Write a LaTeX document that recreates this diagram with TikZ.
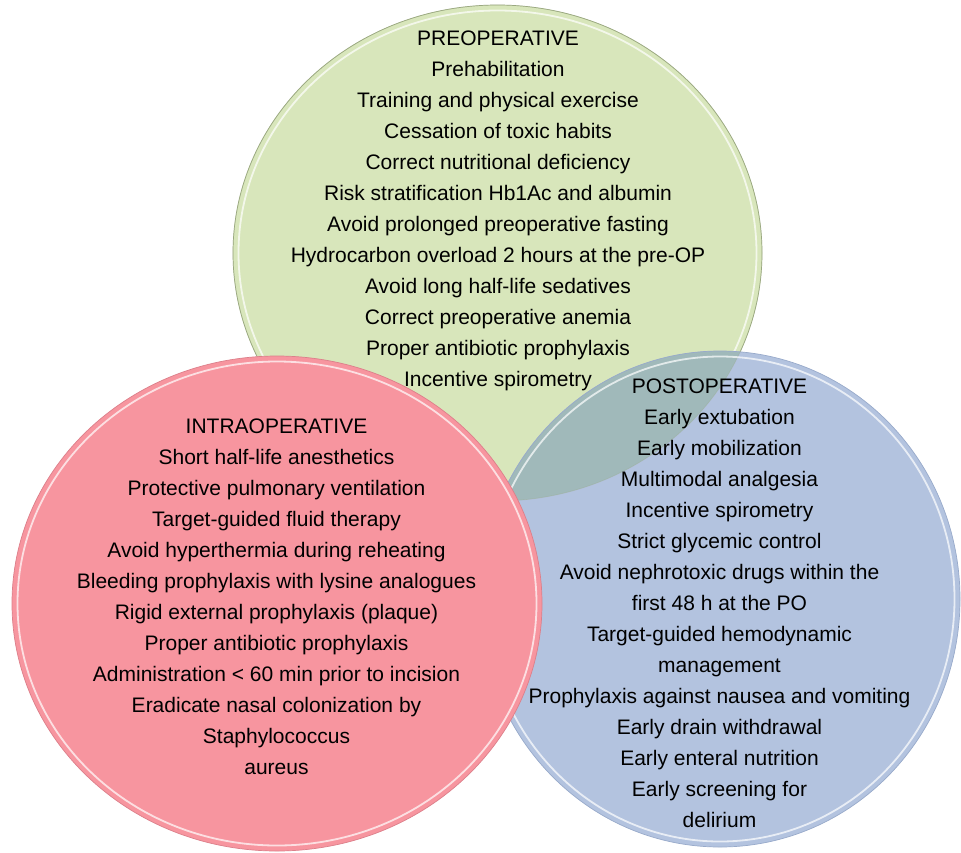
\documentclass[tikz,border=0pt]{standalone}
\usepackage{fontspec}
\setmainfont{Liberation Sans}
\definecolor{gfill}{HTML}{D8E6BB}
\definecolor{gline}{HTML}{9AA880}
\definecolor{bfill}{HTML}{B3C3DF}
\definecolor{bline}{HTML}{98AACA}
\definecolor{rfill}{HTML}{F7959F}
\definecolor{rline}{HTML}{DC7F8A}
\definecolor{lensfill}{HTML}{A0B9BA}
\tikzset{
  blob/.style={line width=0.7pt},
  rim/.style={draw=white, line width=1.8pt, opacity=0.7},
  txt/.style={inner sep=0pt, align=center, anchor=north, font=\fontsize{21}{31}\selectfont, text=black}
}
\begin{document}
\begin{tikzpicture}[x=1pt,y=-1pt]
\useasboundingbox (0,0) rectangle (961,852);
% green (preoperative)
\fill[gfill] (497.5,253) ellipse [x radius=264.5pt, y radius=248pt];
\draw[blob, draw=gline] (497.5,253) ellipse [x radius=264.5pt, y radius=248pt];
\draw[rim] (497.5,253) ellipse [x radius=259pt, y radius=242.5pt];
% blue (postoperative)
\fill[bfill] (720,599) ellipse [x radius=240pt, y radius=248pt];
\begin{scope}
  \clip (497.5,253) ellipse [x radius=264.5pt, y radius=248pt];
  \fill[lensfill] (720,599) ellipse [x radius=240pt, y radius=248pt];
\end{scope}
\draw[gline, line width=0.7pt, opacity=0.3] (497.5,253) ellipse [x radius=264.5pt, y radius=248pt];
\draw[blob, draw=bline] (720,599) ellipse [x radius=240pt, y radius=248pt];
\draw[rim] (720,599) ellipse [x radius=234.5pt, y radius=242.5pt];
% red (intraoperative)
\fill[rfill] (277,603.5) ellipse [x radius=265pt, y radius=247.5pt];
\draw[blob, draw=rline] (277,603.5) ellipse [x radius=265pt, y radius=247.5pt];
\draw[rim] (277,603.5) ellipse [x radius=259.5pt, y radius=242pt];
% texts
\node[txt] (pre) at (498,31) {PREOPERATIVE\\Prehabilitation\\Training and physical exercise\\Cessation of toxic habits\\Correct nutritional deficiency\\Risk stratification Hb1Ac and albumin\\Avoid prolonged preoperative fasting\\Hydrocarbon overload 2 hours at the pre-OP\\Avoid long half-life sedatives\\Correct preoperative anemia\\Proper antibiotic prophylaxis\\Incentive spirometry};
\node[txt] (intra) at (276.5,419) {INTRAOPERATIVE\\Short half-life anesthetics\\Protective pulmonary ventilation\\Target-guided fluid therapy\\Avoid hyperthermia during reheating\\Bleeding prophylaxis with lysine analogues\\Rigid external prophylaxis (plaque)\\Proper antibiotic prophylaxis\\Administration < 60 min prior to incision\\Eradicate nasal colonization by\\Staphylococcus\\aureus};
\node[txt] (post) at (719.5,379) {POSTOPERATIVE\\Early extubation\\Early mobilization\\Multimodal analgesia\\Incentive spirometry\\Strict glycemic control\\Avoid nephrotoxic drugs within the\\first 48 h at the PO\\Target-guided hemodynamic\\management\\Prophylaxis against nausea and vomiting\\Early drain withdrawal\\Early enteral nutrition\\Early screening for\\delirium};
\end{tikzpicture}
\end{document}
